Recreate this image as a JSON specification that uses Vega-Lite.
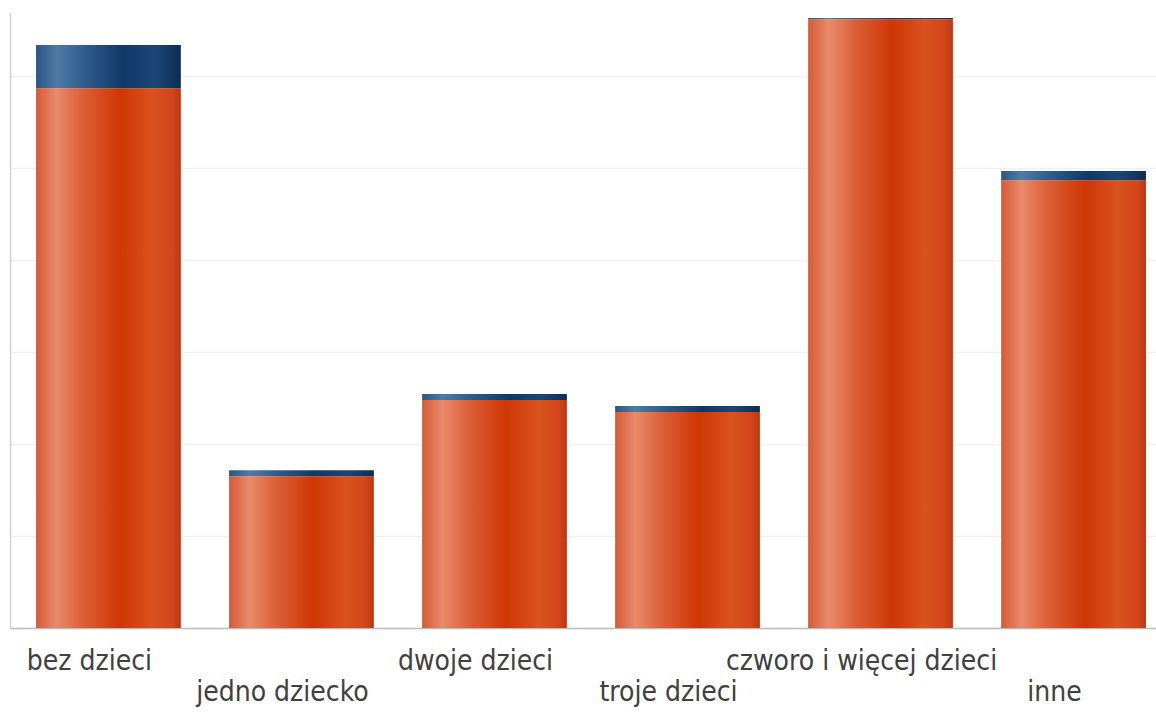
{
  "$schema": "https://vega.github.io/schema/vega-lite/v6.json",
  "autosize": {"type": "none"},
  "padding": {"left": 10, "top": 12, "right": 0, "bottom": 84},
  "width": 1162,
  "height": 616,
  "background": "white",
  "data": {
    "values": [
      {"kategoria": "bez dzieci", "seria": "a", "wartosc": 58.7},
      {"kategoria": "bez dzieci", "seria": "b", "wartosc": 4.7},
      {"kategoria": "jedno dziecko", "seria": "a", "wartosc": 16.5},
      {"kategoria": "jedno dziecko", "seria": "b", "wartosc": 0.65},
      {"kategoria": "dwoje dzieci", "seria": "a", "wartosc": 24.8},
      {"kategoria": "dwoje dzieci", "seria": "b", "wartosc": 0.65},
      {"kategoria": "troje dzieci", "seria": "a", "wartosc": 23.5},
      {"kategoria": "troje dzieci", "seria": "b", "wartosc": 0.65},
      {"kategoria": "czworo i więcej dzieci", "seria": "a", "wartosc": 66.2},
      {"kategoria": "czworo i więcej dzieci", "seria": "b", "wartosc": 0.15},
      {"kategoria": "inne", "seria": "a", "wartosc": 48.7},
      {"kategoria": "inne", "seria": "b", "wartosc": 1.0}
    ]
  },
  "transform": [
    {"stack": "wartosc", "groupby": ["kategoria"], "sort": [{"field": "seria", "order": "ascending"}], "as": ["v0", "v1"]}
  ],
  "encoding": {
    "x": {
      "field": "kategoria",
      "type": "nominal",
      "sort": ["bez dzieci", "jedno dziecko", "dwoje dzieci", "troje dzieci", "czworo i więcej dzieci", "inne"],
      "scale": {"paddingInner": 0.25, "paddingOuter": 0.135},
      "axis": {
        "title": null,
        "ticks": false,
        "labelAngle": 0,
        "labelFont": "Liberation Sans Narrow, DejaVu Sans Condensed, Open Sans, sans-serif",
        "labelFontSize": 28,
        "labelColor": "#404040",
        "labelBaseline": "top",
        "labelPadding": {"condition": {"test": "indexof(['jedno dziecko','troje dzieci','inne'], datum.value) >= 0", "value": 50}, "value": 19},
        "labelOffset": -19,
        "labelLimit": 0,
        "labelOverlap": false,
        "labelBound": false,
        "labelFlush": false,
        "domainColor": "#bdbdbd",
        "domainWidth": 1.5
      }
    },
    "y": {
      "field": "v1",
      "type": "quantitative",
      "scale": {"domain": [0, 67], "nice": false, "zero": true},
      "axis": {
        "title": null,
        "labels": false,
        "ticks": false,
        "values": [0, 10, 20, 30, 40, 50, 60],
        "grid": true,
        "gridColor": "#f0f0f0",
        "gridWidth": 1.5,
        "domainColor": "#d4d4dc",
        "domainWidth": 1.5
      }
    },
    "y2": {"field": "v0"}
  },
  "layer": [
    {
      "transform": [{"filter": "datum.seria === 'a'"}],
      "mark": {
        "type": "bar",
        "color": {
          "gradient": "linear",
          "x1": 0, "y1": 0, "x2": 1, "y2": 0,
          "stops": [
            {"offset": 0, "color": "#d65a34"},
            {"offset": 0.14, "color": "#e88a6c"},
            {"offset": 0.32, "color": "#dc6038"},
            {"offset": 0.58, "color": "#cf3605"},
            {"offset": 0.8, "color": "#d9521f"},
            {"offset": 0.94, "color": "#d4461a"},
            {"offset": 1, "color": "#b83815"}
          ]
        }
      }
    },
    {
      "transform": [{"filter": "datum.seria === 'b'"}],
      "mark": {
        "type": "bar",
        "color": {
          "gradient": "linear",
          "x1": 0, "y1": 0, "x2": 1, "y2": 0,
          "stops": [
            {"offset": 0, "color": "#2b5683"},
            {"offset": 0.14, "color": "#4f7aa6"},
            {"offset": 0.35, "color": "#2d5a8a"},
            {"offset": 0.6, "color": "#0f3866"},
            {"offset": 0.82, "color": "#1c4676"},
            {"offset": 1, "color": "#0c2d58"}
          ]
        }
      }
    }
  ],
  "config": {"view": {"stroke": null}}
}
